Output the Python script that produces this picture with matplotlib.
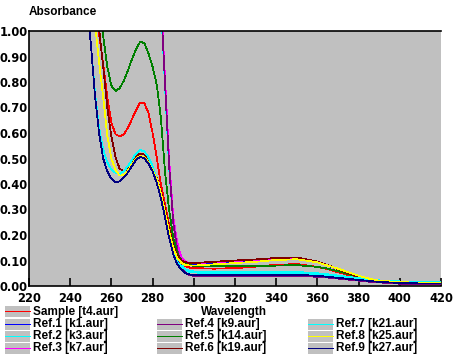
import numpy as np
import matplotlib
matplotlib.use("Agg")
import matplotlib.pyplot as plt
from matplotlib.patches import Rectangle
from matplotlib.font_manager import FontProperties

nan = np.nan

# wavelength grid (nm)
wl = [246, 248, 250, 252, 254, 256, 258, 260, 262, 264, 266, 268, 270, 272, 274, 276,
      278, 280, 282, 284, 286, 288, 290, 292, 294, 296, 298, 300, 310, 320, 330, 340,
      350, 360, 365, 370, 375, 380, 385, 390, 400, 410, 420]

sample_t4 = [nan, 1.40, 1.26, 1.12, 0.99, 0.87, 0.74, 0.64, 0.595, 0.587, 0.595, 0.62, 0.655, 0.69, 0.72, 0.716,
             0.68, 0.60, 0.505, 0.40, 0.32, 0.24, 0.17, 0.12, 0.09, 0.078, 0.072, 0.07, 0.068, 0.07, 0.076, 0.083,
             0.086, 0.075, 0.066, 0.054, 0.043, 0.032, 0.024, 0.018, 0.013, 0.011, 0.010]
ref1_k1 = [1.35, 1.13, 0.95, 0.75, 0.60, 0.50, 0.45, 0.42, 0.408, 0.41, 0.425, 0.445, 0.47, 0.495, 0.507, 0.50,
           0.48, 0.45, 0.405, 0.35, 0.275, 0.20, 0.14, 0.105, 0.092, 0.087, 0.085, 0.085, 0.09, 0.096, 0.10, 0.105,
           0.107, 0.094, 0.08, 0.066, 0.05, 0.037, 0.027, 0.02, 0.014, 0.012, 0.011]
ref2_k3 = [nan, nan, nan, nan, nan, nan, nan, nan, nan, nan, nan, nan, nan, nan, nan, nan,
           nan, 1.74, 1.44, 1.11, 0.79, 0.465, 0.255, 0.15, 0.085, 0.062, 0.055, 0.053, 0.05, 0.05, 0.05, 0.051,
           0.051, 0.047, 0.043, 0.038, 0.033, 0.028, 0.024, 0.02, 0.016, 0.015, 0.015]
ref3_k7 = [nan, nan, nan, nan, nan, nan, nan, nan, nan, nan, nan, nan, nan, nan, nan, nan,
           nan, 1.76, 1.46, 1.13, 0.82, 0.50, 0.27, 0.17, 0.11, 0.095, 0.09, 0.09, 0.093, 0.098, 0.102, 0.108,
           0.11, 0.095, 0.081, 0.066, 0.05, 0.036, 0.026, 0.019, 0.013, 0.011, 0.010]
ref4_k9 = [nan, nan, nan, nan, nan, nan, nan, nan, nan, nan, nan, nan, nan, nan, nan, nan,
           nan, 1.75, 1.45, 1.12, 0.80, 0.475, 0.25, 0.14, 0.075, 0.05, 0.042, 0.04, 0.038, 0.038, 0.038, 0.04,
           0.04, 0.036, 0.033, 0.029, 0.025, 0.021, 0.017, 0.014, 0.009, 0.008, 0.008]
ref5_k14 = [nan, nan, 1.40, 1.25, 1.11, 0.98, 0.86, 0.785, 0.765, 0.775, 0.805, 0.845, 0.89, 0.93, 0.958, 0.952,
            0.912, 0.86, 0.79, 0.66, 0.45, 0.30, 0.19, 0.13, 0.10, 0.088, 0.082, 0.079, 0.077, 0.077, 0.078, 0.08,
            0.082, 0.075, 0.068, 0.058, 0.047, 0.036, 0.027, 0.02, 0.014, 0.012, 0.011]
ref6_k19 = [nan, 1.42, 1.28, 1.14, 1.01, 0.86, 0.70, 0.585, 0.505, 0.46, 0.45, 0.462, 0.485, 0.51, 0.52, 0.515,
            0.495, 0.46, 0.425, 0.37, 0.30, 0.225, 0.16, 0.12, 0.10, 0.093, 0.09, 0.09, 0.095, 0.10, 0.104, 0.11,
            0.112, 0.096, 0.082, 0.066, 0.05, 0.036, 0.026, 0.019, 0.014, 0.012, 0.012]
ref7_k21 = [1.35, 1.13, 0.95, 0.76, 0.62, 0.535, 0.485, 0.457, 0.444, 0.44, 0.45, 0.47, 0.495, 0.52, 0.533, 0.528,
            0.505, 0.47, 0.42, 0.36, 0.28, 0.20, 0.135, 0.095, 0.075, 0.065, 0.06, 0.057, 0.055, 0.054, 0.054, 0.055,
            0.055, 0.05, 0.046, 0.041, 0.036, 0.031, 0.026, 0.022, 0.018, 0.016, 0.016]
ref8_k25 = [nan, 1.30, 1.16, 1.03, 0.88, 0.74, 0.59, 0.50, 0.455, 0.433, 0.435, 0.452, 0.478, 0.50, 0.51, 0.505,
            0.485, 0.455, 0.42, 0.365, 0.29, 0.215, 0.15, 0.11, 0.09, 0.083, 0.08, 0.08, 0.085, 0.09, 0.095, 0.102,
            0.105, 0.093, 0.08, 0.068, 0.054, 0.04, 0.029, 0.021, 0.015, 0.013, 0.012]
ref9_k27 = [1.35, 1.13, 0.95, 0.75, 0.60, 0.50, 0.45, 0.42, 0.408, 0.41, 0.425, 0.445, 0.47, 0.495, 0.507, 0.50,
            0.48, 0.45, 0.405, 0.345, 0.27, 0.19, 0.125, 0.085, 0.063, 0.05, 0.045, 0.043, 0.042, 0.042, 0.043, 0.044,
            0.044, 0.04, 0.036, 0.032, 0.028, 0.024, 0.02, 0.016, 0.012, 0.010, 0.010]

labels = ["Sample [t4.aur]", "Ref.1 [k1.aur]", "Ref.2 [k3.aur]", "Ref.3 [k7.aur]", "Ref.4 [k9.aur]",
          "Ref.5 [k14.aur]", "Ref.6 [k19.aur]", "Ref.7 [k21.aur]", "Ref.8 [k25.aur]", "Ref.9 [k27.aur]"]
series = [sample_t4, ref1_k1, ref2_k3, ref3_k7, ref4_k9, ref5_k14, ref6_k19, ref7_k21, ref8_k25, ref9_k27]
colors = ["#FF0000", "#0000FF", "#00FFFF", "#FF00FF", "#800080",
          "#008000", "#800000", "#00FFFF", "#FFFF00", "#000080"]

xticks = list(range(220, 421, 20))
yticks = [i / 10 for i in range(11)]

W, H = 460, 358
fig = plt.figure(figsize=(W / 100, H / 100), dpi=100, facecolor="white")

L, R, T, B = 29, 441, 31, 286
ax = fig.add_axes([L / W, 1 - B / H, (R - L) / W, (B - T) / H])
ax.set_facecolor("#C0C0C0")
for vals, c in zip(series, colors):
    ax.plot(wl, vals, color=c, lw=0.55, antialiased=False)

ax.set_xlim(220, 420)
ax.set_ylim(0, 1)
ax.spines["right"].set_visible(False)
for s in ["left", "bottom", "top"]:
    ax.spines[s].set_linewidth(1.2)
ax.set_xticks(xticks)
ax.set_xticklabels([str(t) for t in xticks])
ax.set_yticks(yticks)
ax.set_yticklabels([f"{t:.2f}" for t in yticks])
ax.tick_params(axis="x", direction="in", length=6, width=1.2, pad=4)
ax.tick_params(axis="y", length=0, pad=1)
tick_font = FontProperties(family="DejaVu Sans", weight="bold", size=8.3)
for lab in ax.get_xticklabels() + ax.get_yticklabels():
    lab.set_fontproperties(tick_font)

# overlay in pixel coordinates for titles and legend
ov = fig.add_axes([0, 0, 1, 1], facecolor="none")
ov.set_xlim(0, W)
ov.set_ylim(H, 0)
ov.axis("off")
txt = dict(family="Liberation Sans", weight="bold", size=8.5, va="center")
ov.text(29, 12, "Absorbance", ha="left", **txt)
ov.text(234, 312, "Wavelength", ha="center", **txt)

def legend_item(x, y, label, color):
    ov.add_patch(Rectangle((x, y - 5.5), 25, 11, facecolor="#C0C0C0", edgecolor="none"))
    ov.plot([x, x + 25], [y, y], color=color, lw=0.55, antialiased=False)
    ov.text(x + 28, y + 0.5, label, ha="left", **txt)

legend_item(5, 311, labels[0], colors[0])
cols_x = [5, 157, 308]
rows_y = [324, 336, 348]
for i in range(1, 10):
    c, r = divmod(i - 1, 3)
    legend_item(cols_x[c], rows_y[r], labels[i], colors[i])

fig.savefig("out.png", dpi=100, facecolor="white")
